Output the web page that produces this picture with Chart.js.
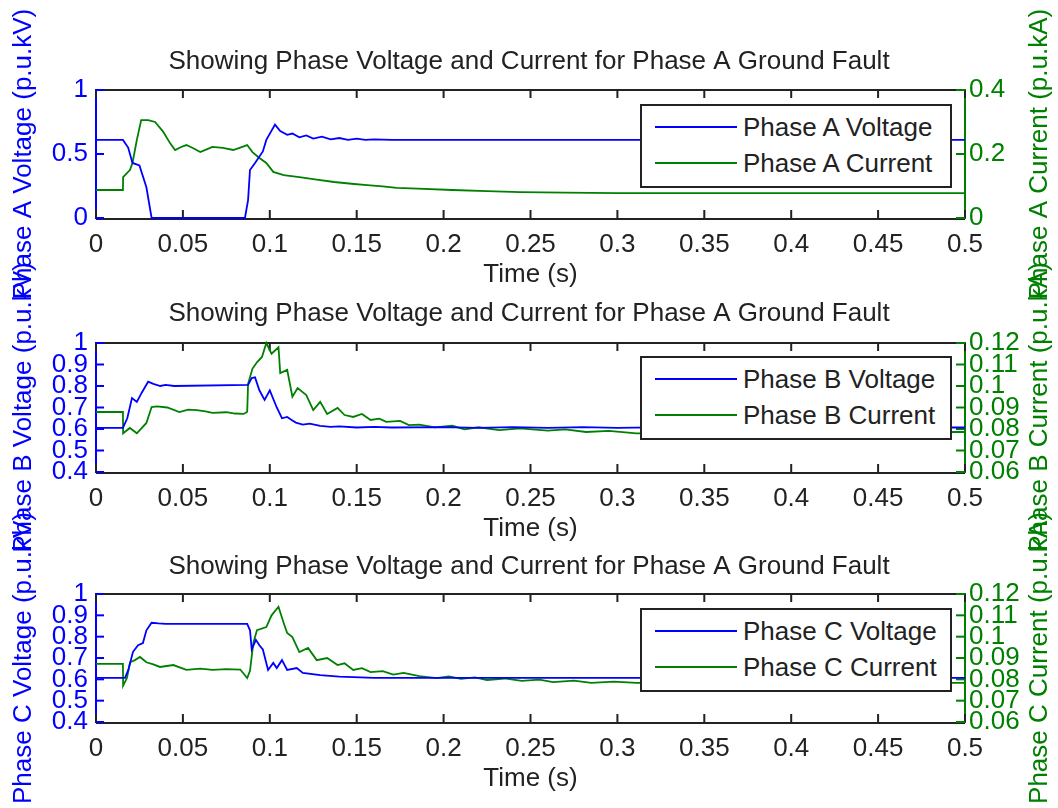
<!DOCTYPE html>
<html>
<head>
<meta charset="utf-8">
<title>Phase Voltage and Current for Phase A Ground Fault</title>
<script src="https://cdn.jsdelivr.net/npm/chart.js@4/dist/chart.umd.min.js"></script>
<style>
    body { margin: 0; background: #fff; }
    #wrap { position: relative; width: 1058px; height: 808px; overflow: hidden; }
    #wrap canvas { position: absolute; left: 0; top: 0; }
    .legend {
        position: absolute; left: 640px; width: 308px; height: 80px;
        border: 2px solid #222; background: #fff;
        font: 26px 'Liberation Sans', Arial, sans-serif; color: #222;
    }
    .legend .row { position: absolute; left: 0; width: 100%; height: 30px; }
    .legend .ln { position: absolute; left: 13px; width: 82px; top: 14px; height: 0; border-top: 2px solid; }
    .legend .tx { position: absolute; left: 101px; top: 0; line-height: 30px; white-space: nowrap; }
</style>
</head>
<body>
<div id="wrap">
    <canvas id="chartA" width="1058" height="808"></canvas>
    <canvas id="chartB" width="1058" height="808"></canvas>
    <canvas id="chartC" width="1058" height="808"></canvas>
</div>
<script>
// tick labels
const xTicks = [0, 0.05, 0.1, 0.15, 0.2, 0.25, 0.3, 0.35, 0.4, 0.45, 0.5];
const voltTicksA = [0, 0.5, 1];
const curTicksA = [0, 0.2, 0.4];
const voltTicksBC = [0.4, 0.5, 0.6, 0.7, 0.8, 0.9, 1];
const curTicksBC = [0.06, 0.07, 0.08, 0.09, 0.1, 0.11, 0.12];

// Phase A
const tVoltA = [0, 0.0155, 0.0185, 0.021, 0.025, 0.029, 0.032, 0.0857, 0.0875, 0.0886, 0.0915, 0.096, 0.098, 0.103, 0.106, 0.110, 0.113, 0.117, 0.121, 0.125, 0.13, 0.135, 0.14, 0.145, 0.15, 0.155, 0.16, 0.17, 0.18, 0.5];
const voltA = [0.61, 0.61, 0.55, 0.43, 0.41, 0.24, 0.0, 0.0, 0.14, 0.375, 0.43, 0.52, 0.61, 0.73, 0.68, 0.65, 0.66, 0.63, 0.645, 0.62, 0.635, 0.615, 0.625, 0.61, 0.62, 0.61, 0.615, 0.61, 0.61, 0.61];
const tCurA = [0, 0.0155, 0.0156, 0.0195, 0.021, 0.0235, 0.026, 0.030, 0.034, 0.0386, 0.0426, 0.0455, 0.049, 0.052, 0.056, 0.06, 0.064, 0.067, 0.073, 0.079, 0.087, 0.09, 0.094, 0.098, 0.102, 0.108, 0.117, 0.127, 0.137, 0.147, 0.156, 0.165, 0.173, 0.185, 0.205, 0.225, 0.244, 0.27, 0.30, 0.5];
const curA = [0.0875, 0.0875, 0.128, 0.15, 0.172, 0.244, 0.306, 0.306, 0.30, 0.27, 0.234, 0.2125, 0.222, 0.228, 0.218, 0.206, 0.215, 0.222, 0.219, 0.2125, 0.228, 0.206, 0.1875, 0.172, 0.144, 0.134, 0.128, 0.12, 0.1125, 0.107, 0.103, 0.099, 0.094, 0.092, 0.0875, 0.084, 0.081, 0.079, 0.078, 0.078];

// Phase B
const tVoltB = [0, 0.0155, 0.018, 0.0207, 0.0235, 0.0264, 0.030, 0.033, 0.037, 0.040, 0.045, 0.0875, 0.0896, 0.0915, 0.094, 0.097, 0.100, 0.104, 0.107, 0.110, 0.113, 0.115, 0.119, 0.123, 0.129, 0.135, 0.14, 0.15, 0.16, 0.17, 0.2, 0.22, 0.24, 0.26, 0.28, 0.30, 0.32, 0.35, 0.5];
const voltB = [0.605, 0.605, 0.65, 0.744, 0.726, 0.77, 0.82, 0.81, 0.80, 0.805, 0.80, 0.805, 0.837, 0.84, 0.78, 0.735, 0.78, 0.70, 0.65, 0.656, 0.64, 0.63, 0.62, 0.625, 0.615, 0.61, 0.612, 0.607, 0.61, 0.607, 0.609, 0.605, 0.609, 0.605, 0.609, 0.605, 0.608, 0.607, 0.607];
const tCurB = [0, 0.0155, 0.0156, 0.0195, 0.0235, 0.029, 0.032, 0.035, 0.041, 0.048, 0.053, 0.058, 0.063, 0.067, 0.075, 0.080, 0.085, 0.087, 0.0875, 0.09, 0.0926, 0.0955, 0.098, 0.101, 0.105, 0.106, 0.110, 0.113, 0.116, 0.121, 0.125, 0.129, 0.133, 0.139, 0.143, 0.148, 0.153, 0.158, 0.163, 0.167, 0.175, 0.180, 0.186, 0.195, 0.205, 0.212, 0.22, 0.232, 0.244, 0.26, 0.27, 0.282, 0.295, 0.311, 0.5];
const curB = [0.0879, 0.0879, 0.078, 0.0805, 0.078, 0.0828, 0.0902, 0.0905, 0.090, 0.0879, 0.089, 0.0888, 0.0882, 0.0875, 0.0878, 0.0872, 0.087, 0.088, 0.101, 0.108, 0.111, 0.1135, 0.12, 0.115, 0.118, 0.106, 0.1075, 0.095, 0.099, 0.0958, 0.0888, 0.0926, 0.087, 0.0898, 0.0865, 0.0856, 0.087, 0.0842, 0.0848, 0.0833, 0.0838, 0.0818, 0.082, 0.0808, 0.0815, 0.0798, 0.0808, 0.0795, 0.0803, 0.0792, 0.0798, 0.0786, 0.0791, 0.078, 0.0786];

// Phase C
const tVoltC = [0, 0.0167, 0.0186, 0.0213, 0.0242, 0.027, 0.029, 0.032, 0.036, 0.04, 0.087, 0.0886, 0.0896, 0.092, 0.094, 0.096, 0.099, 0.102, 0.104, 0.107, 0.110, 0.1155, 0.119, 0.129, 0.14, 0.148, 0.16, 0.5];
const voltC = [0.607, 0.607, 0.644, 0.729, 0.76, 0.77, 0.83, 0.865, 0.862, 0.86, 0.86, 0.83, 0.74, 0.785, 0.76, 0.74, 0.644, 0.677, 0.653, 0.69, 0.644, 0.653, 0.63, 0.62, 0.613, 0.61, 0.607, 0.607];
const tCurC = [0, 0.0155, 0.0156, 0.0178, 0.0196, 0.0224, 0.0253, 0.029, 0.033, 0.0368, 0.0445, 0.052, 0.06, 0.067, 0.075, 0.083, 0.087, 0.0886, 0.0905, 0.0926, 0.098, 0.101, 0.105, 0.108, 0.110, 0.113, 0.117, 0.122, 0.127, 0.133, 0.139, 0.143, 0.148, 0.153, 0.158, 0.165, 0.171, 0.177, 0.186, 0.196, 0.203, 0.21, 0.218, 0.225, 0.235, 0.245, 0.255, 0.263, 0.275, 0.285, 0.298, 0.311, 0.5];
const curC = [0.0872, 0.0872, 0.077, 0.0806, 0.088, 0.089, 0.0905, 0.088, 0.087, 0.0858, 0.0867, 0.0844, 0.085, 0.0844, 0.0848, 0.0846, 0.0806, 0.084, 0.097, 0.103, 0.1045, 0.11, 0.114, 0.1064, 0.1017, 0.0998, 0.0928, 0.0947, 0.089, 0.090, 0.0867, 0.0875, 0.0844, 0.0852, 0.0834, 0.0838, 0.0822, 0.083, 0.0815, 0.0806, 0.0814, 0.0802, 0.0809, 0.0797, 0.0804, 0.0793, 0.0799, 0.0787, 0.0794, 0.0783, 0.0789, 0.0783, 0.0783];

const titleText = 'Showing Phase Voltage and Current for Phase A Ground Fault';
const blue = '#0000ff';
const green = '#008000';
const dark = '#222222';
const fam = "'Liberation Sans', Arial, sans-serif";

Chart.defaults.font.family = fam;
Chart.defaults.font.size = 26;
Chart.defaults.color = dark;

function pts(t, v) {
    return t.map((x, i) => ({ x: x, y: v[i] }));
}

function fmt(v) {
    return String(+Number(v).toFixed(3));
}

function panel(id, p) {
    // MATLAB style inward ticks, top frame line and the right axis label
    let inner = {
        id: 'inner',
        beforeDatasetsDraw(chart) {
            let ctx = chart.ctx;
            let a = chart.chartArea;
            let s = chart.scales;
            ctx.save();
            ctx.lineWidth = 2;
            ctx.strokeStyle = dark;
            ctx.beginPath();
            ctx.moveTo(a.left, a.top);
            ctx.lineTo(a.right, a.top);
            ctx.moveTo(a.left, a.bottom + 1);
            ctx.lineTo(a.right, a.bottom + 1);
            ctx.stroke();
            s.x.ticks.forEach((t, i) => {
                let px = s.x.getPixelForTick(i);
                ctx.beginPath();
                ctx.moveTo(px, a.bottom);
                ctx.lineTo(px, a.bottom - 8);
                ctx.moveTo(px, a.top);
                ctx.lineTo(px, a.top + 8);
                ctx.stroke();
            });
            ctx.strokeStyle = blue;
            s.yL.ticks.forEach((t, i) => {
                let py = s.yL.getPixelForTick(i);
                ctx.beginPath();
                ctx.moveTo(a.left, py);
                ctx.lineTo(a.left + 8, py);
                ctx.stroke();
            });
            ctx.strokeStyle = green;
            s.yR.ticks.forEach((t, i) => {
                let py = s.yR.getPixelForTick(i);
                ctx.beginPath();
                ctx.moveTo(a.right, py);
                ctx.lineTo(a.right - 9, py);
                ctx.stroke();
            });
            ctx.fillStyle = green;
            ctx.font = '26px ' + fam;
            ctx.textAlign = 'center';
            ctx.textBaseline = 'middle';
            ctx.translate(1040, (a.top + a.bottom) / 2);
            ctx.rotate(-Math.PI / 2);
            ctx.fillText(p.rightTitle, 0, 0);
            ctx.restore();
        }
    };

    new Chart(document.getElementById(id), {
        type: 'line',
        data: {
            datasets: [{
                label: p.vLabel,
                data: pts(p.tv, p.v),
                borderColor: blue,
                yAxisID: 'yL',
                clip: 3
            }, {
                label: p.iLabel,
                data: pts(p.ti, p.i),
                borderColor: green,
                yAxisID: 'yR',
                clip: 3
            }]
        },
        options: {
            responsive: false,
            animation: false,
            events: [],
            layout: { padding: { top: p.top, bottom: p.bottom, left: 0, right: 0 } },
            elements: {
                point: { radius: 0 },
                line: { borderWidth: 1.8, tension: 0 }
            },
            plugins: {
                legend: { display: false },
                tooltip: { enabled: false },
                title: {
                    display: true,
                    text: titleText,
                    color: dark,
                    font: { size: 26, weight: 'normal' },
                    padding: { top: 0, bottom: p.titleGap }
                }
            },
            scales: {
                x: {
                    type: 'linear',
                    min: 0,
                    max: 0.5,
                    afterBuildTicks: s => { s.ticks = xTicks.map(v => ({ value: v })); },
                    afterFit: s => { s.height = 72.6; },
                    ticks: { autoSkip: false, maxRotation: 0, color: dark, padding: 11, callback: fmt },
                    grid: { drawOnChartArea: false, drawTicks: false },
                    border: { display: false },
                    title: { display: true, text: 'Time (s)', color: dark, padding: 0 }
                },
                yL: {
                    type: 'linear',
                    position: 'left',
                    min: p.vMin,
                    max: p.vMax,
                    afterBuildTicks: s => { s.ticks = p.vTicks.map(v => ({ value: v })); },
                    afterFit: s => { s.width = 96; },
                    ticks: { autoSkip: false, color: blue, padding: 8, callback: fmt },
                    grid: { drawOnChartArea: false, drawTicks: false },
                    border: { color: blue, width: 2 },
                    title: { display: true, text: p.leftTitle, color: blue, padding: 8 }
                },
                yR: {
                    type: 'linear',
                    position: 'right',
                    min: p.iMin,
                    max: p.iMax,
                    afterBuildTicks: s => { s.ticks = p.iTicks.map(v => ({ value: v })); },
                    afterFit: s => { s.width = 93; },
                    ticks: { autoSkip: false, color: green, padding: 4, callback: fmt },
                    grid: { drawOnChartArea: false, drawTicks: false },
                    border: { color: green, width: 2 }
                }
            }
        },
        plugins: [inner]
    });

    // legend box inside the upper right of the axes
    let box = document.createElement('div');
    box.className = 'legend';
    box.style.top = p.legendTop + 'px';
    [[p.vLabel, blue, 21], [p.iLabel, green, 57]].forEach(r => {
        let row = document.createElement('div');
        row.className = 'row';
        row.style.top = (r[2] - 15) + 'px';
        let ln = document.createElement('span');
        ln.className = 'ln';
        ln.style.borderColor = r[1];
        let tx = document.createElement('span');
        tx.className = 'tx';
        tx.textContent = r[0];
        row.appendChild(ln);
        row.appendChild(tx);
        box.appendChild(row);
    });
    document.getElementById('wrap').appendChild(box);
}

panel('chartA', {
    tv: tVoltA, v: voltA, ti: tCurA, i: curA,
    vLabel: 'Phase A Voltage', iLabel: 'Phase A Current',
    leftTitle: 'Phase A Voltage (p.u.kV)', rightTitle: 'Phase A Current (p.u.kA)',
    vMin: 0, vMax: 1, vTicks: voltTicksA,
    iMin: 0, iMax: 0.4, iTicks: curTicksA,
    top: 46.4, titleGap: 12.4, bottom: 517.4, legendTop: 104
});

panel('chartB', {
    tv: tVoltB, v: voltB, ti: tCurB, i: curB,
    vLabel: 'Phase B Voltage', iLabel: 'Phase B Current',
    leftTitle: 'Phase B Voltage (p.u.kV)', rightTitle: 'Phase B Current (p.u.kA)',
    vMin: 0.4, vMax: 1, vTicks: voltTicksBC,
    iMin: 0.06, iMax: 0.12, iTicks: curTicksBC,
    top: 298.4, titleGap: 13.4, bottom: 263.4, legendTop: 356
});

panel('chartC', {
    tv: tVoltC, v: voltC, ti: tCurC, i: curC,
    vLabel: 'Phase C Voltage', iLabel: 'Phase C Current',
    leftTitle: 'Phase C Voltage (p.u.kV)', rightTitle: 'Phase C Current (p.u.kA)',
    vMin: 0.4, vMax: 1, vTicks: voltTicksBC,
    iMin: 0.06, iMax: 0.12, iTicks: curTicksBC,
    top: 551.4, titleGap: 11.4, bottom: 13.4, legendTop: 608
});
</script>
</body>
</html>
